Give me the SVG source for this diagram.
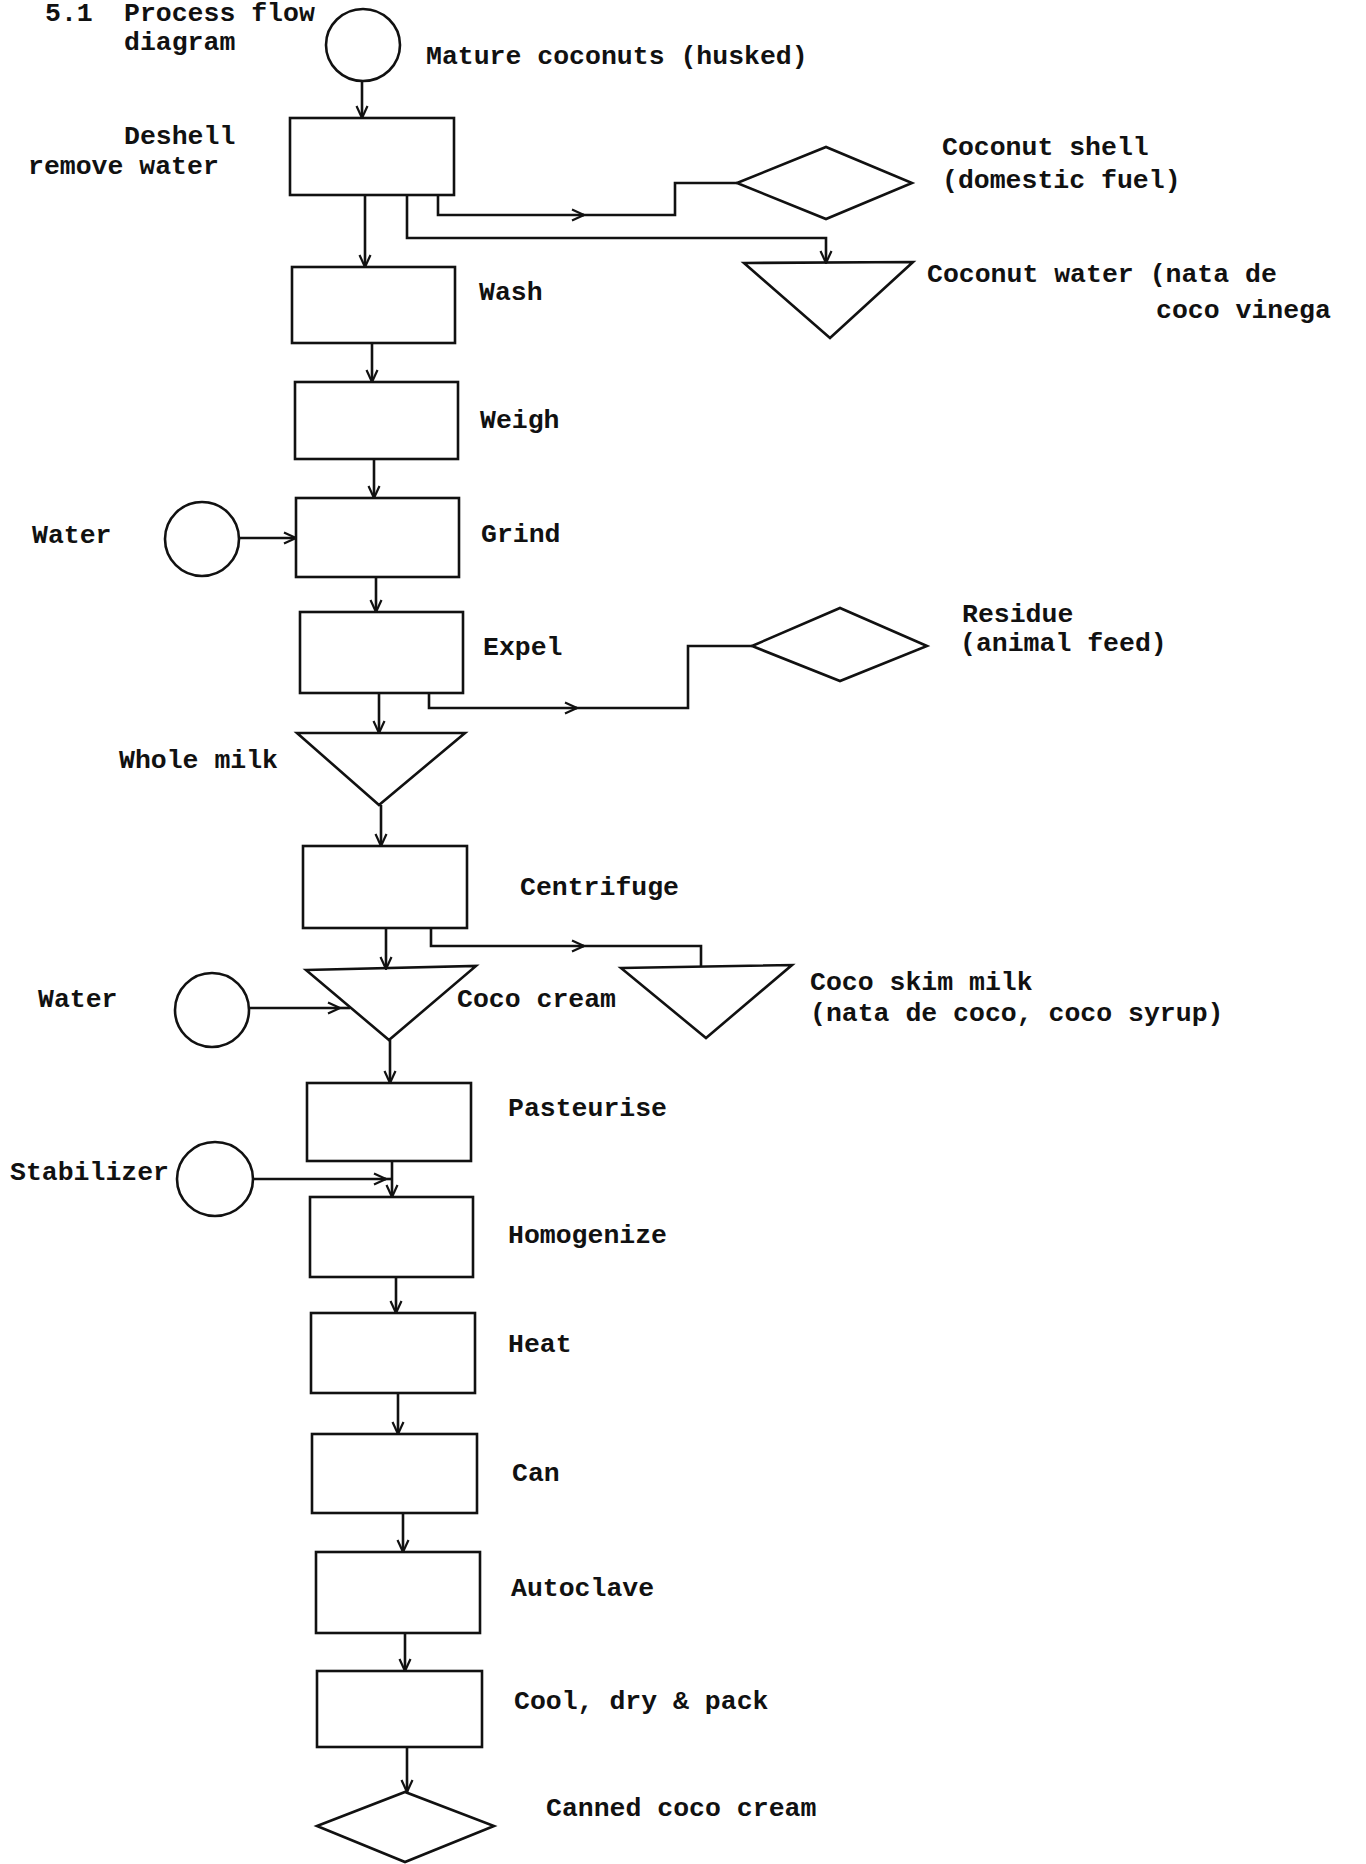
<svg xmlns="http://www.w3.org/2000/svg" width="1366" height="1864" viewBox="0 0 1366 1864">
<style>
.s{fill:none;stroke:#111;stroke-width:2.6;stroke-linejoin:miter}
.c{fill:none;stroke:#111;stroke-width:2.6}
.t{font-family:"Liberation Mono","DejaVu Sans Mono",monospace;font-weight:bold;font-size:26.5px;fill:#111}
</style>
<defs>
<marker id="ah" viewBox="0 0 14 14" refX="13" refY="7" markerWidth="14" markerHeight="14" orient="auto" markerUnits="userSpaceOnUse">
<path d="M1,1.5 L13,7 L1,12.5" fill="none" stroke="#111" stroke-width="2.2"/>
</marker>
</defs>
<rect width="1366" height="1864" fill="#fff"/>

<g id="title">
<text class="t" x="45" y="21">5.1</text>
<text class="t" x="124" y="21">Process flow</text>
<text class="t" x="124" y="50">diagram</text>
</g>

<g id="n-coconuts">
<ellipse class="s" cx="363" cy="45" rx="37" ry="36"/>
<text class="t" x="426" y="64">Mature coconuts (husked)</text>
</g>
<g id="n-deshell">
<rect class="s" x="290" y="118" width="164" height="77"/>
<text class="t" x="124" y="144">Deshell</text>
<text class="t" x="28" y="174">remove water</text>
</g>
<g id="n-shell">
<polygon class="s" points="737,183 826,147 912,183 826,219"/>
<text class="t" x="942" y="155">Coconut shell</text>
<text class="t" x="942" y="188">(domestic fuel)</text>
</g>
<g id="n-cwater">
<polygon class="s" points="744,263 913,262 830,338"/>
<text class="t" x="927" y="282">Coconut water (nata de</text>
<text class="t" x="1156" y="318">coco vinega</text>
</g>
<g id="n-wash">
<rect class="s" x="292" y="267" width="163" height="76"/>
<text class="t" x="479" y="300">Wash</text>
</g>
<g id="n-weigh">
<rect class="s" x="295" y="382" width="163" height="77"/>
<text class="t" x="480" y="428">Weigh</text>
</g>
<g id="n-water1">
<ellipse class="s" cx="202" cy="539" rx="37" ry="37"/>
<text class="t" x="32" y="543">Water</text>
</g>
<g id="n-grind">
<rect class="s" x="296" y="498" width="163" height="79"/>
<text class="t" x="481" y="542">Grind</text>
</g>
<g id="n-expel">
<rect class="s" x="300" y="612" width="163" height="81"/>
<text class="t" x="483" y="655">Expel</text>
</g>
<g id="n-residue">
<polygon class="s" points="752,646 840,608 927,646 840,681"/>
<text class="t" x="962" y="622">Residue</text>
<text class="t" x="960" y="651">(animal feed)</text>
</g>
<g id="n-wholemilk">
<polygon class="s" points="297,733 465,733 379,805"/>
<text class="t" x="119" y="768">Whole milk</text>
</g>
<g id="n-centrifuge">
<rect class="s" x="303" y="846" width="164" height="82"/>
<text class="t" x="520" y="895">Centrifuge</text>
</g>
<g id="n-water2">
<ellipse class="s" cx="212" cy="1010" rx="37" ry="37"/>
<text class="t" x="38" y="1007">Water</text>
</g>
<g id="n-cococream">
<polygon class="s" points="306,970 476,966 389,1040"/>
<text class="t" x="457" y="1007">Coco cream</text>
</g>
<g id="n-skim">
<polygon class="s" points="621,968 792,965 706,1038"/>
<text class="t" x="810" y="990">Coco skim milk</text>
<text class="t" x="810" y="1021">(nata de coco, coco syrup)</text>
</g>
<g id="n-pasteurise">
<rect class="s" x="307" y="1083" width="164" height="78"/>
<text class="t" x="508" y="1116">Pasteurise</text>
</g>
<g id="n-stabilizer">
<ellipse class="s" cx="215" cy="1179" rx="38" ry="37"/>
<text class="t" x="10" y="1180">Stabilizer</text>
</g>
<g id="n-homogenize">
<rect class="s" x="310" y="1197" width="163" height="80"/>
<text class="t" x="508" y="1243">Homogenize</text>
</g>
<g id="n-heat">
<rect class="s" x="311" y="1313" width="164" height="80"/>
<text class="t" x="508" y="1352">Heat</text>
</g>
<g id="n-can">
<rect class="s" x="312" y="1434" width="165" height="79"/>
<text class="t" x="512" y="1481">Can</text>
</g>
<g id="n-autoclave">
<rect class="s" x="316" y="1552" width="164" height="81"/>
<text class="t" x="511" y="1596">Autoclave</text>
</g>
<g id="n-cool">
<rect class="s" x="317" y="1671" width="165" height="76"/>
<text class="t" x="514" y="1709">Cool, dry &amp; pack</text>
</g>
<g id="n-canned">
<polygon class="s" points="317,1826 405,1792 494,1826 405,1862"/>
<text class="t" x="546" y="1816">Canned coco cream</text>
</g>

<g id="connectors">
<path class="c" d="M362,82 V118" marker-end="url(#ah)"/>
<path class="c" d="M365,195 V267" marker-end="url(#ah)"/>
<path class="c" d="M438,195 V215 H584" marker-end="url(#ah)"/>
<path class="c" d="M582,215 H675 V183 H737"/>
<path class="c" d="M407,195 V238 H826 V263" marker-end="url(#ah)"/>
<path class="c" d="M372,343 V382" marker-end="url(#ah)"/>
<path class="c" d="M374,459 V498" marker-end="url(#ah)"/>
<path class="c" d="M239,538 H296" marker-end="url(#ah)"/>
<path class="c" d="M376,577 V612" marker-end="url(#ah)"/>
<path class="c" d="M379,693 V733" marker-end="url(#ah)"/>
<path class="c" d="M429,693 V708 H577" marker-end="url(#ah)"/>
<path class="c" d="M575,708 H688 V646 H752"/>
<path class="c" d="M381,805 V846" marker-end="url(#ah)"/>
<path class="c" d="M386,928 V969" marker-end="url(#ah)"/>
<path class="c" d="M431,928 V946 H584" marker-end="url(#ah)"/>
<path class="c" d="M582,946 H701 V967"/>
<path class="c" d="M249,1008 H340" marker-end="url(#ah)"/>
<path class="c" d="M340,1008 H350"/>
<path class="c" d="M390,1040 V1083" marker-end="url(#ah)"/>
<path class="c" d="M253,1179 H386" marker-end="url(#ah)"/>
<path class="c" d="M384,1179 H392"/>
<path class="c" d="M392,1161 V1197" marker-end="url(#ah)"/>
<path class="c" d="M396,1277 V1313" marker-end="url(#ah)"/>
<path class="c" d="M398,1393 V1434" marker-end="url(#ah)"/>
<path class="c" d="M403,1513 V1552" marker-end="url(#ah)"/>
<path class="c" d="M405,1633 V1671" marker-end="url(#ah)"/>
<path class="c" d="M407,1747 V1792" marker-end="url(#ah)"/>
</g>
</svg>
